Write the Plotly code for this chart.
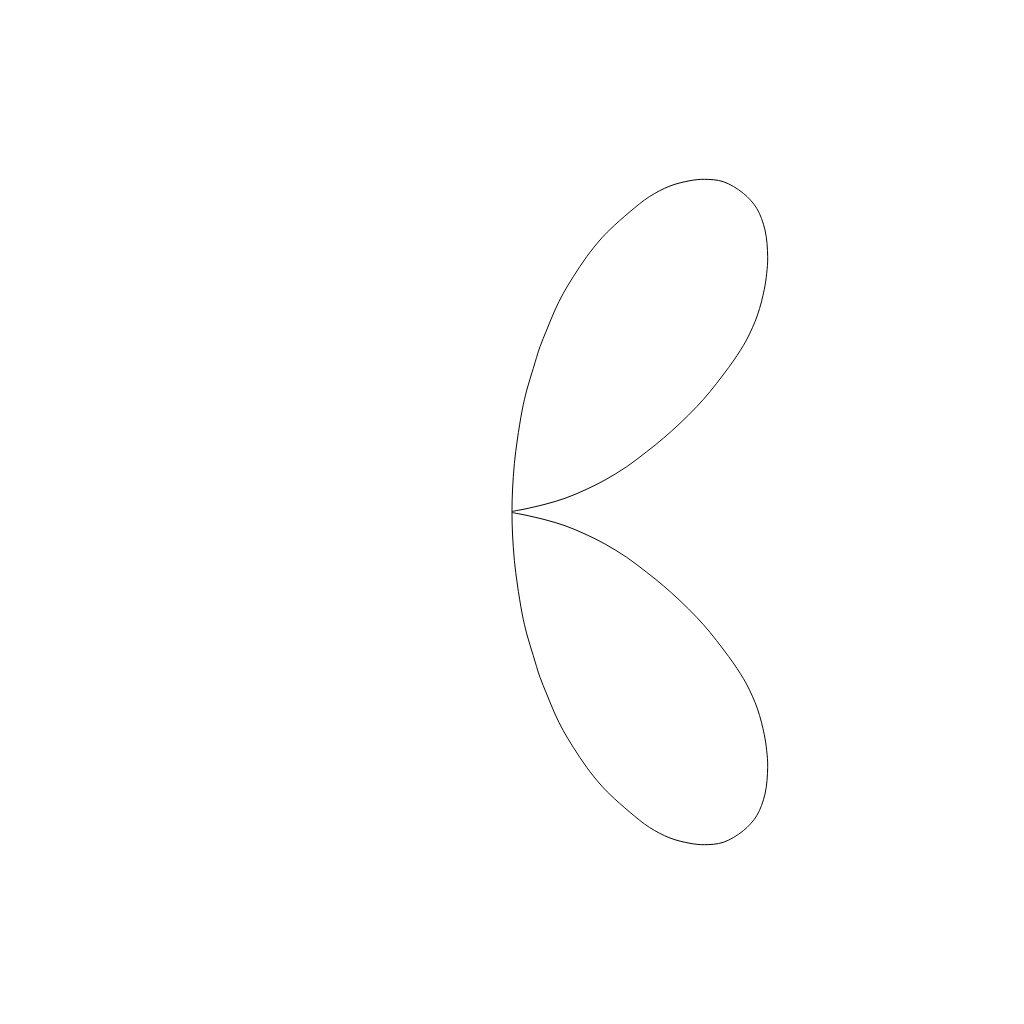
import plotly.graph_objects as go

# Upper lobe (units: 1 = 100 px, origin at the cusp)
lobe_x = [0.0, 0.005, 0.024, 0.053, 0.102, 0.148, 0.213, 0.28, 0.347, 0.43, 0.513,
          0.613, 0.747, 0.88, 0.98, 1.18, 1.373, 1.58, 1.78, 1.923, 2.113, 2.313,
          2.447, 2.53, 2.557, 2.547, 2.523, 2.455, 2.345, 2.22, 2.11, 1.98, 1.847,
          1.68, 1.513, 1.347, 1.147, 0.93, 0.73, 0.53, 0.33, 0.13, 0.0]
lobe_y = [0.0, 0.22, 0.487, 0.72, 1.02, 1.22, 1.437, 1.653, 1.82, 2.02, 2.187,
          2.353, 2.553, 2.72, 2.825, 3.003, 3.153, 3.26, 3.313, 3.327, 3.303, 3.187,
          3.037, 2.82, 2.553, 2.387, 2.227, 1.97, 1.72, 1.52, 1.37, 1.203, 1.053,
          0.887, 0.737, 0.603, 0.453, 0.32, 0.22, 0.137, 0.077, 0.03, 0.0]

# Lower lobe is the mirror image of the upper lobe
x_all = lobe_x + lobe_x[::-1][1:]
y_all = lobe_y + [-v for v in lobe_y[::-1][1:]]

fig = go.Figure(go.Scatter(
    x=x_all, y=y_all, mode="lines",
    line=dict(color="black", width=1, shape="spline", smoothing=1),
    showlegend=False, hoverinfo="skip",
))

fig.update_layout(
    margin=dict(l=80, r=80, t=100, b=100),
    paper_bgcolor="white", plot_bgcolor="white",
    xaxis=dict(range=[-4.24, 4.24], visible=False, showgrid=False, zeroline=False),
    yaxis=dict(range=[-4.04, 4.04], visible=False, showgrid=False, zeroline=False),
)

fig.write_html("out.html")
